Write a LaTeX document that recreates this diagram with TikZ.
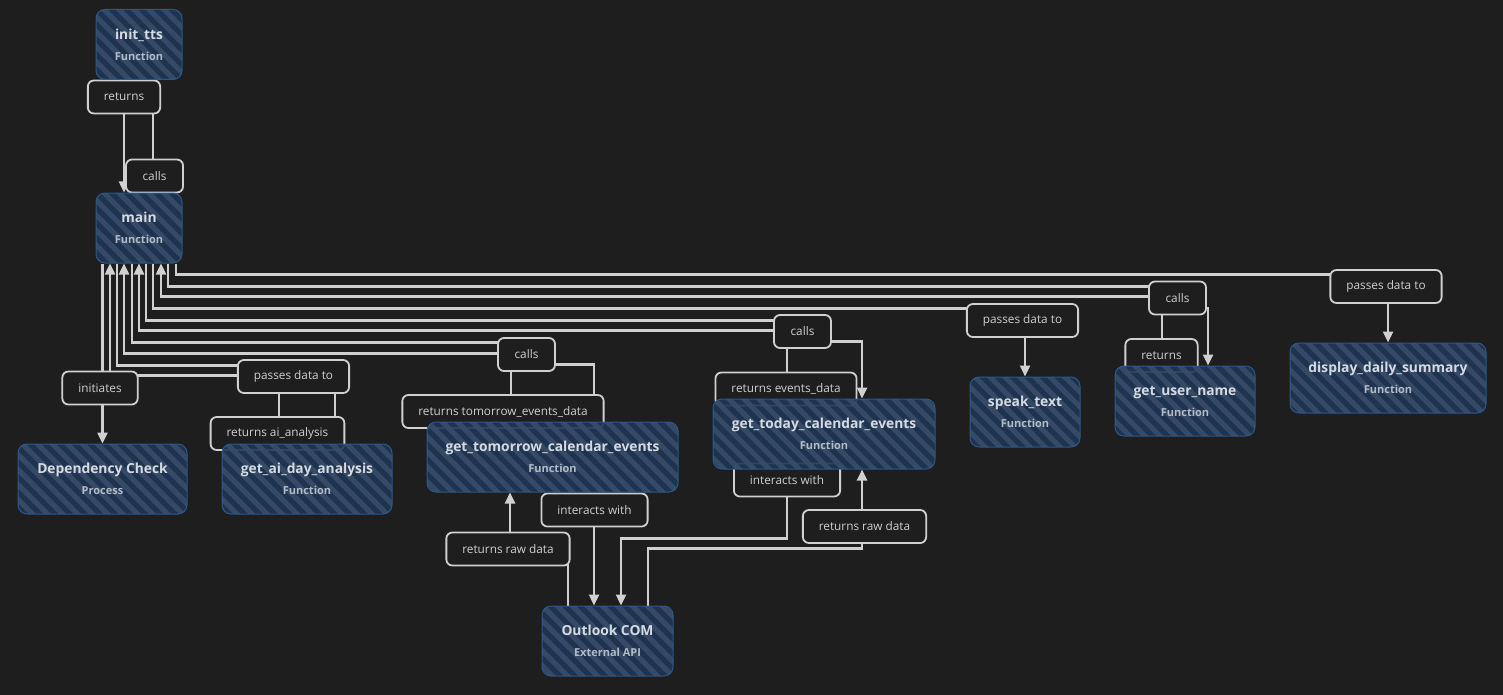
\documentclass[tikz,border=0pt]{standalone}
\usepackage{fontspec}
\setmainfont{Open Sans}
\usetikzlibrary{arrows.meta, positioning, calc}
\definecolor{bgDark}{HTML}{1E1E1E}
\definecolor{nodeFill}{HTML}{1F3656}
\definecolor{nodeStripe}{HTML}{3A4D68}
\definecolor{nodeEdge}{HTML}{2C5C94}
\definecolor{nodeText}{HTML}{D6DBE2}
\definecolor{subText}{HTML}{B4BCC8}
\definecolor{linkGray}{HTML}{D0D0D0}

\pgfdeclarelayer{bg}
\pgfdeclarelayer{edges}
\pgfdeclarelayer{labels}
\pgfsetlayers{bg,edges,labels,main}

\newcommand{\fnode}[2]{#1\\[5pt]{\fontsize{11}{12}\selectfont\color{subText}#2}}

\tikzset{
  fnbox/.style={draw=nodeEdge, line width=1pt, rounded corners=9pt, fill=nodeFill,
    fill opacity=0.9, draw opacity=0.9, text opacity=1, minimum height=70pt,
    inner sep=0pt, align=center, text=nodeText,
    font=\bfseries\fontsize{13.8}{16}\selectfont,
    path picture={
      \foreach \s in {-195,-180,...,195}
        \draw[nodeStripe, line width=5pt]
          ($(path picture bounding box.center)+(\s-120,-120)$) -- ++(240,240);
    }},
  lbl/.style={draw=linkGray, line width=1.8pt, rounded corners=6pt, fill=bgDark,
    text=linkGray, minimum height=33pt, minimum width=57pt, inner xsep=16pt,
    font=\fontsize{11.8}{13}\selectfont},
  link/.style={draw=linkGray, line width=2.4pt},
  arr/.style={link, -{Triangle[length=11pt,width=10pt]}},
}

\begin{document}
\begin{tikzpicture}[x=1pt, y=-1pt]
  \useasboundingbox (0,0) rectangle (1503,695);
  \begin{pgfonlayer}{bg}
    \fill[bgDark] (0,0) rectangle (1503,695);
  \end{pgfonlayer}

  \node[fnbox, minimum width=86pt] (init) at (139,44.5) {\fnode{init\_tts}{Function}};
  \node[fnbox, minimum width=86pt] (main) at (139,228) {\fnode{main}{Function}};
  \node[fnbox, minimum width=169pt] (dep) at (102.5,479) {\fnode{Dependency Check}{Process}};
  \node[fnbox, minimum width=170pt] (ai) at (307,479) {\fnode{get\_ai\_day\_analysis}{Function}};
  \node[fnbox, minimum width=251pt] (tom) at (552.5,457) {\fnode{get\_tomorrow\_calendar\_events}{Function}};
  \node[fnbox, minimum width=222pt] (today) at (824,434) {\fnode{get\_today\_calendar\_events}{Function}};
  \node[fnbox, minimum width=110pt] (speak) at (1025,412) {\fnode{speak\_text}{Function}};
  \node[fnbox, minimum width=140pt] (user) at (1185,401) {\fnode{get\_user\_name}{Function}};
  \node[fnbox, minimum width=196pt] (disp) at (1388,378) {\fnode{display\_daily\_summary}{Function}};
  \node[fnbox, minimum width=131pt] (outlook) at (607.5,641) {\fnode{Outlook COM}{External API}};

  \begin{pgfonlayer}{labels}
    \node[lbl] (lRetInit) at (124,97) {returns};
    \node[lbl] (lCallInit) at (154.5,176) {calls};
    \node[lbl] (lInit) at (100,388) {initiates};
    \node[lbl] (lPassAi) at (293.5,376.5) {passes data to};
    \node[lbl] (lRetAi) at (277.5,433.5) {returns ai\_analysis};
    \node[lbl] (lCallTom) at (526.5,354.5) {calls};
    \node[lbl] (lRetTom) at (503,411.5) {returns tomorrow\_events\_data};
    \node[lbl] (lCallToday) at (802.5,331.5) {calls};
    \node[lbl] (lRetToday) at (786,389) {returns events\_data};
    \node[lbl] (lPassSpeak) at (1022.5,320.5) {passes data to};
    \node[lbl] (lCallUser) at (1177.5,298) {calls};
    \node[lbl] (lRetUser) at (1161.5,355.5) {returns};
    \node[lbl] (lPassDisp) at (1386,286.5) {passes data to};
    \node[lbl] (lIntTom) at (594.5,510) {interacts with};
    \node[lbl] (lRetRawTom) at (508,549) {returns raw data};
    \node[lbl] (lIntToday) at (787,480) {interacts with};
    \node[lbl] (lRetRawToday) at (864.5,526.5) {returns raw data};
  \end{pgfonlayer}

  \begin{pgfonlayer}{edges}
    \draw[arr] ([xshift=-15pt]init.south) -- ([xshift=-15pt]main.north);
    \draw[arr] ([xshift=14pt]main.north) -- ([xshift=14pt]init.south);
    \draw[arr] (main.south -| dep.north) -- (dep.north);
    \draw[arr] ([xshift=-22pt]main.south) -- ++(0,102) -| ([xshift=28pt]ai.north);
    \draw[arr] ([xshift=-28pt]ai.north) -- ++(0,-68) -| ([xshift=-29pt]main.south);
    \draw[arr] ([xshift=-7pt]main.south) -- ++(0,79) -| ($(lCallTom.center)+(0,10)$) -| ([xshift=41.5pt]tom.north);
    \draw[arr] ([xshift=-41.5pt]tom.north) -- ++(0,-68) -| ([xshift=-15pt]main.south);
    \draw[arr] ([xshift=7pt]main.south) -- ++(0,57) -| ($(lCallToday.center)+(0,10)$) -| ([xshift=38pt]today.north);
    \draw[arr] ([xshift=-37pt]today.north) -- ++(0,-68) -| (main.south);
    \draw[arr] ([xshift=14pt]main.south) -- ++(0,45) -| (speak.north);
    \draw[arr] ([xshift=29pt]main.south) -- ++(0,23) -| ($(lCallUser.center)+(0,10)$) -| ([xshift=23pt]user.north);
    \draw[arr] ([xshift=-23pt]user.north) -- ++(0,-69) -| ([xshift=22pt]main.south);
    \draw[arr] ([xshift=37pt]main.south) -- ++(0,11) -| (disp.north);
    \draw[arr] ([xshift=41.5pt]tom.south) -- ([xshift=-13.5pt]outlook.north);
    \draw[arr] ([xshift=-39.5pt]outlook.north) -- ++(0,-57) -| ([xshift=-42.5pt]tom.south);
    \draw[arr] ([xshift=-37pt]today.south) -- ++(0,69) -| ([xshift=13.5pt]outlook.north);
    \draw[arr] ([xshift=40.5pt]outlook.north) -- ++(0,-57) -| ([xshift=38pt]today.south);
  \end{pgfonlayer}
\end{tikzpicture}
\end{document}
